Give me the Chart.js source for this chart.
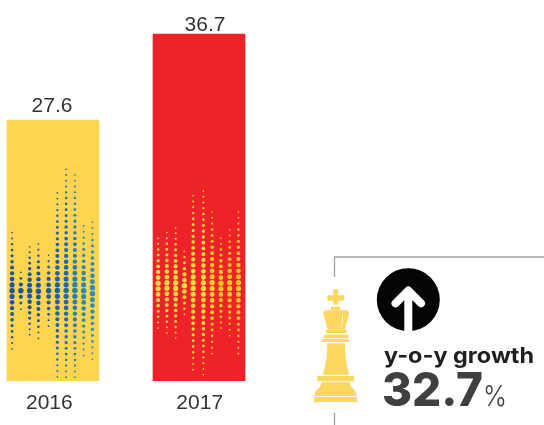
<!DOCTYPE html>
<html>
<head>
<meta charset="utf-8">
<style>
  html, body { margin: 0; padding: 0; background: #fff; overflow: hidden; }
  #wrap { position: relative; width: 544px; height: 425px; }
  canvas, svg { position: absolute; left: 0; top: 0; }
</style>
<script src="https://cdn.jsdelivr.net/npm/chart.js@4"></script>
</head>
<body>
<div id="wrap">
  <canvas id="chart" width="544" height="425"></canvas>
  <svg width="544" height="425" viewBox="0 0 544 425">
    <!-- callout frame -->
    <path d="M334.500 277V257H544M334.500 413V426" fill="none" stroke="#a3a3a3" stroke-width="1.4"/>
    <!-- king -->
    <g fill="#ffd75f">
      <path d="M333.300 289.300h5v6h6v5.400h-6v4h-5v-4h-6v-5.400h6z"/>
      <rect x="331" y="306.700" width="9" height="3.300"/>
      <path d="M323.300 314q0-3.500 3-3.700h20q2.700 .2 2.700 3.700l-4 15.300h-17.300z"/>
      <rect x="326" y="329.700" width="20.700" height="3.300"/>
      <rect x="324" y="334.700" width="24.300" height="3.300"/>
      <rect x="321.700" y="338.700" width="27.300" height="3.300"/>
      <path d="M327.300 343.300h17.700q0 18 4.300 31.400h-26.600q4.600-13.400 4.600-31.400z"/>
      <rect x="317.300" y="376" width="36.700" height="5.300"/>
      <path d="M321.700 382.300h28.300q0 4 3 6.500 3.500 3 3.700 7.200h-42.400q.2-4.200 3.700-7.200 3-2.500 3.700-6.500z"/>
      <rect x="314" y="397" width="43.300" height="5"/>
    </g>
    <path d="M342.500 315q.8 6-1.500 12" fill="none" stroke="#fff" stroke-width="0.8"/>
    <!-- arrow badge -->
    <circle cx="408.300" cy="299.700" r="31.500" fill="#050505"/>
    <path d="M408.300 334V291M395.500 303.300L408.300 290.500L421 303.300" fill="none" stroke="#fff" stroke-width="8" stroke-linecap="round" stroke-linejoin="round"/>
    <text x="384" y="363" font-family="Inter" font-weight="700" font-size="22" fill="#1f1f1f" textLength="150" lengthAdjust="spacingAndGlyphs">y-o-y growth</text>
    <text x="382" y="405.500" font-family="Inter" font-weight="800" font-size="47" fill="#404040" textLength="101" lengthAdjust="spacingAndGlyphs">32.7</text>
    <text x="483" y="405.500" font-family="Inter" font-weight="300" font-size="28" fill="#404040" textLength="24" lengthAdjust="spacingAndGlyphs">%</text>
  </svg>
</div>
<script>
// bars
const years = [2016, 2017];
const revenue = [27.6, 36.7];
const barColors = ['#ffd450', '#ee2229'];

// halftone columns inside each bar
const dotX2016 = [2015.72, 2015.78, 2015.84, 2015.90, 2015.97, 2016.03, 2016.09, 2016.15, 2016.21, 2016.27];
const dotTop2016 = [15.7, 11.5, 14.2, 14.5, 13.3, 19.9, 22.4, 21.8, 16.4, 16.8];
const dotBottom2016 = [3.4, 7.6, 4.9, 4.5, 5.8, 0.45, 0.4, 0.4, 2.7, 2.3];
const dotRows2016 = [21, 7, 17, 17, 13, 33, 37, 36, 23, 24];
const dotColors2016 = ['#1b559c', '#1b559c', '#1b569d', '#1b589f', '#1c5ca3', '#1d62a9', '#1e69af', '#2280b9', '#2687bd', '#2a8dc0'];
const dotMid2016 = 9.55;

const dotX2017 = [2016.72, 2016.78, 2016.84, 2016.90, 2016.96, 2017.03, 2017.09, 2017.15, 2017.21, 2017.27];
const dotTop2017 = [15.1, 15.7, 16.2, 13.7, 19.6, 20.1, 17.9, 15.1, 16.0, 17.9];
const dotBottom2017 = [5.6, 5.1, 4.55, 7.05, 1.2, 0.67, 2.9, 5.6, 4.8, 2.9];
const dotRows2017 = [17, 19, 21, 12, 31, 33, 25, 17, 19, 25];
const dotColors2017 = ['#e8dc42', '#e8dc42', '#eadc40', '#ecdc3c', '#f0dc3a', '#f2dc38', '#fbd024', '#fccb20', '#fdc81e', '#fdc61e'];
const dotMid2017 = 10.1;

// label nudges, the source labels are not quite centred on their bars
const tickSpots = [2015.975, 2017.005];
const valueShiftX = [-1, 6];
const valueGap = [8, 3.3];

function dotColumn(x, top, bottom, rows, color, mid) {
    const points = [];
    const radii = [];
    for (let i = 0; i < rows; i++) {
        const y = bottom + (top - bottom) * i / (rows - 1);
        const t = Math.min(1, Math.abs(y - mid) / (y > mid ? top - mid : mid - bottom));
        points.push({ x: x, y: y });
        radii.push(0.85 + 1.9 * Math.pow(1 - t, 1.1));
    }
    return { type: 'scatter', data: points, pointRadius: radii, pointBorderWidth: 0, backgroundColor: color, order: 1 };
}

const dotSets = [];
dotX2016.forEach((x, i) => dotSets.push(dotColumn(x, dotTop2016[i], dotBottom2016[i], dotRows2016[i], dotColors2016[i], dotMid2016)));
dotX2017.forEach((x, i) => dotSets.push(dotColumn(x, dotTop2017[i], dotBottom2017[i], dotRows2017[i], dotColors2017[i], dotMid2017)));

// number above each bar
const barValues = {
    id: 'barValues',
    afterDraw(chart) {
        const c = chart.ctx;
        c.save();
        c.font = '21px "Liberation Sans"';
        c.fillStyle = '#333';
        c.textAlign = 'center';
        c.textBaseline = 'alphabetic';
        revenue.forEach((v, i) => {
            c.fillText(v.toFixed(1), chart.scales.x.getPixelForValue(years[i]) + valueShiftX[i], chart.scales.y.getPixelForValue(v) - valueGap[i]);
        });
        c.restore();
    }
};

new Chart(document.getElementById('chart').getContext('2d'), {
    type: 'bar',
    data: {
        datasets: [{
            data: years.map((y, i) => ({ x: y, y: revenue[i] })),
            backgroundColor: barColors,
            barThickness: 92,
            order: 2
        }].concat(dotSets)
    },
    plugins: [barValues],
    options: {
        responsive: false,
        animation: false,
        layout: { padding: 0, autoPadding: false },
        plugins: { legend: { display: false }, tooltip: { enabled: false } },
        scales: {
            x: {
                type: 'linear',
                offset: false,
                min: 2015.637,
                max: 2019.363,
                grid: { display: false },
                border: { display: false },
                afterBuildTicks: scale => { scale.ticks = tickSpots.map(v => ({ value: v })); },
                afterFit: scale => { scale.height = 44; },
                ticks: {
                    autoSkip: false,
                    maxRotation: 0,
                    padding: 2,
                    color: '#333',
                    font: { family: '"Liberation Sans"', size: 21 },
                    callback: (v, i) => String(years[i])
                }
            },
            y: { display: false, min: 0, max: 40.3 }
        }
    }
});
</script>
</body>
</html>
